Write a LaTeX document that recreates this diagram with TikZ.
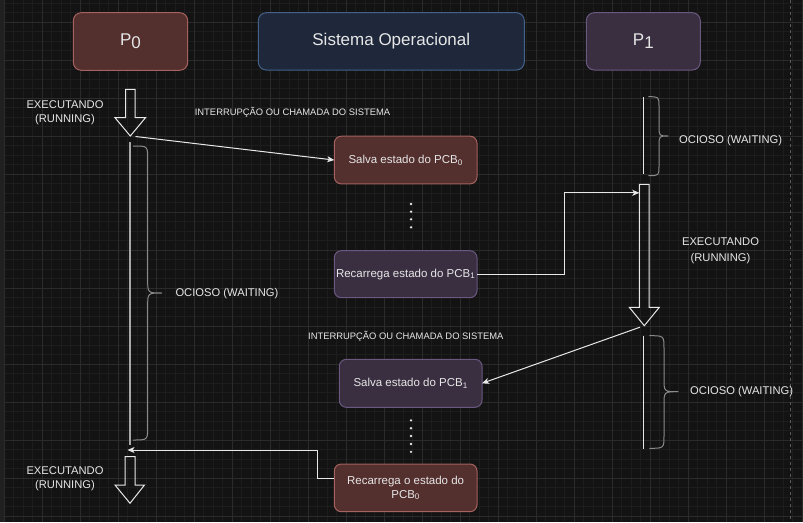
\documentclass[tikz,border=0pt]{standalone}
\usepackage{fontspec}
\setmainfont{Liberation Sans}
\usetikzlibrary{arrows.meta}
\definecolor{bgc}{HTML}{131313}
\definecolor{minorc}{HTML}{1D1D1D}
\definecolor{majorc}{HTML}{2B2B2B}
\definecolor{stripc}{HTML}{202020}
\definecolor{txt}{HTML}{E6E6E6}
\definecolor{redfill}{HTML}{532F2E}
\definecolor{redline}{HTML}{A5625E}
\definecolor{bluefill}{HTML}{1E283A}
\definecolor{blueline}{HTML}{44618A}
\definecolor{purfill}{HTML}{3A2F41}
\definecolor{purline}{HTML}{6A5880}
\definecolor{linec}{HTML}{E8E8E8}
\definecolor{bracec}{HTML}{8A8A8A}
\definecolor{p0line}{HTML}{A8A8A8}
\definecolor{dashc}{HTML}{5A5A5A}
\newcommand\mybrace[7]{%
  \draw[bracestyle] (#1,#4) .. controls (#2,#4) .. (#2,#4+#7) -- (#2,#5-#7)
    .. controls (#2,#5) .. (#3,#5) .. controls (#2,#5) .. (#2,#5+#7)
    -- (#2,#6-#7) .. controls (#2,#6) .. (#1,#6);}
\tikzset{
  box/.style={draw, line width=1pt, rounded corners=7pt, inner sep=0pt, outer sep=0pt,
    anchor=north west, text=txt, align=center, font=\fontsize{11.5}{14}\selectfont},
  titlebox/.style={box, rounded corners=8pt, font=\fontsize{17}{20}\selectfont},
  redbox/.style={fill=redfill, draw=redline},
  bluebox/.style={fill=bluefill, draw=blueline},
  purbox/.style={fill=purfill, draw=purline},
  lbl/.style={text=txt, inner sep=0pt, align=center, font=\fontsize{11.2}{14}\selectfont},
  smalllbl/.style={text=txt, inner sep=0pt, font=\fontsize{9.4}{11}\selectfont},
  conn/.style={draw=linec, line width=1pt, -{Stealth[length=7pt,width=6pt,inset=1.8pt]}},
  blockarrow/.style={draw=linec, line width=1pt, line join=miter},
  bracestyle/.style={draw=bracec, line width=1pt},
  minorline/.style={draw=minorc, line width=1pt},
  majorline/.style={draw=majorc, line width=1pt},
}
\begin{document}
\begin{tikzpicture}[x=1pt,y=-1pt]
\fill[bgc] (0,0) rectangle (803,522);
\useasboundingbox (0,0) rectangle (803,522);
% grid
\foreach \i in {0,...,84} {\draw[minorline] (4.3+\i*9.5,0) -- (4.3+\i*9.5,522);}
\foreach \j in {2,...,56} {\draw[minorline] (0,-16+\j*9.5) -- (803,-16+\j*9.5);}
\foreach \i in {0,...,21} {\draw[majorline] (4.3+\i*38,0) -- (4.3+\i*38,522);}
\foreach \j in {1,...,14} {\draw[majorline] (0,-16+\j*38) -- (803,-16+\j*38);}
\fill[stripc] (0,0) rectangle (3.5,522);
\draw[dashc, dashed, line width=0.8pt] (790.7,0) -- (790.7,522);

% title boxes
\node[titlebox, redbox, minimum width=114.4pt, minimum height=57.6pt] (p0) at (73.3,12.7) {P\raisebox{-3pt}{0}};
\node[titlebox, bluebox, minimum width=266pt, minimum height=57.3pt] (so) at (258.3,12.7) {Sistema Operacional};
\node[titlebox, purbox, minimum width=114pt, minimum height=57.3pt] (p1) at (586.3,12.7) {P\raisebox{-3pt}{1}};

% OS boxes
\node[box, redbox, minimum width=142.7pt, minimum height=47.7pt] (salva0) at (334.3,136.2) {Salva estado do PCB\textsubscript{0}};
\node[box, purbox, minimum width=142.7pt, minimum height=47pt] (rec1) at (334.3,250.7) {Recarrega estado do PCB\textsubscript{1}};
\node[box, purbox, minimum width=142.7pt, minimum height=48pt] (salva1) at (339.3,359.3) {Salva estado do PCB\textsubscript{1}};
\node[box, redbox, minimum width=142.7pt, minimum height=47.7pt] (rec0) at (334.3,464) {Recarrega o estado do\\PCB\textsubscript{0}};

% dots
\foreach \y in {204,211.7,219.3,227.3} {\fill[txt] (411,\y) circle[radius=1.3pt];}
\foreach \y in {420.3,428.2,436,444,451.8} {\fill[txt] (411,\y) circle[radius=1.3pt];}

% block arrows
\draw[blockarrow] (125.5,89.3) -- (135,89.3) -- (135,117.7) -- (145.5,117.7) -- (130.3,136) -- (115,117.7) -- (125.5,117.7) -- cycle;
\draw[blockarrow] (639.3,184.3) -- (649,184.3) -- (649,307.3) -- (659.3,307.3) -- (644.3,325.7) -- (629.3,307.3) -- (639.3,307.3) -- cycle;
\draw[blockarrow] (125.2,456.7) -- (135,456.7) -- (135,485) -- (144.5,485) -- (130,503.3) -- (115,485) -- (125.2,485) -- cycle;
\coordinate (p0out) at (135.5,136.5);
\coordinate (p1in) at (639.3,192.8);
\coordinate (p1out) at (640,327.2);
\coordinate (p0in) at (127.5,450);

% timelines
\draw[p0line, line width=1.3pt] (130,142) -- (130,445);
\draw[linec, line width=1.2pt] (643.5,97) -- (643.5,174);
\draw[linec, line width=1.2pt] (643.5,335.7) -- (643.5,449.3);

% braces
\mybrace{133}{147.7}{162}{146}{293}{440}{13}
\mybrace{648.3}{659}{668.3}{96.7}{136}{175.7}{10}
\mybrace{649.3}{664}{678.3}{335.7}{391.7}{448.3}{13}

% labels
\node[lbl] (exec1) at (65,112.5) {EXECUTANDO\\(RUNNING)};
\node[lbl, font=\fontsize{11.2}{15.6}\selectfont] (exec2) at (720.5,251) {EXECUTANDO\\(RUNNING)};
\node[lbl] (exec3) at (65,479.2) {EXECUTANDO\\(RUNNING)};
\node[smalllbl] (int1) at (292.5,112) {INTERRUPÇÃO OU CHAMADA DO SISTEMA};
\node[smalllbl] (int2) at (405.8,336) {INTERRUPÇÃO OU CHAMADA DO SISTEMA};
\node[lbl, anchor=west] (wait1) at (175.3,293.5) {OCIOSO (WAITING)};
\node[lbl, anchor=west] (wait2) at (679,140.5) {OCIOSO (WAITING)};
\node[lbl, anchor=west] (wait3) at (690,392) {OCIOSO (WAITING)};

% connectors
\draw[conn] (p0out) -- (salva0.west);
\draw[conn] ([yshift=-0.5pt]rec1.east) -- ++(87,0) |- (p1in);
\draw[conn] (p1out) -- (salva1.east);
\draw[conn] ([yshift=9.5pt]rec0.west) -- ++(-17.3,0) |- (p0in);
\end{tikzpicture}
\end{document}
